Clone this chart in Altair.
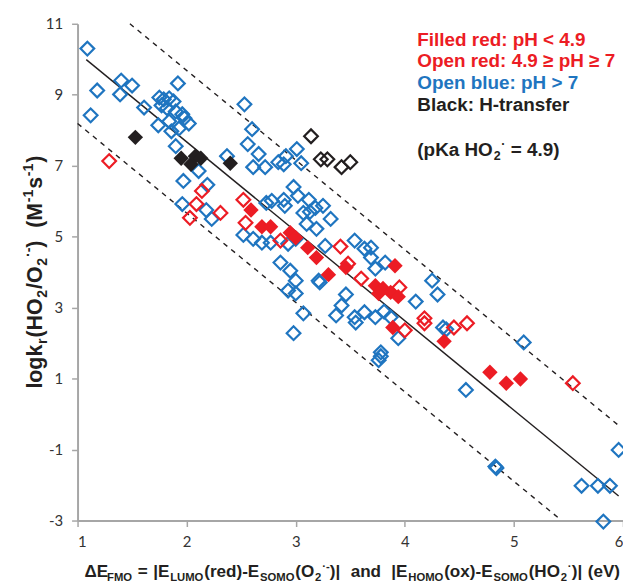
import altair as alt
import pandas as pd

BLUE = "#1F75C0"
RED = "#EC1C24"
BLACK = "#231F20"
GRAY = "#A6A6A6"

# ---------------- data ----------------
blue_x = [1.09, 1.18, 1.12, 1.40, 1.39, 1.50, 1.61, 1.92, 1.75, 1.79, 1.84, 1.88, 1.77, 1.82, 1.90, 1.96,
          2.02, 1.84, 1.74, 1.86, 1.93, 1.98, 1.90, 1.97, 2.11, 2.19, 1.96, 2.18, 2.23, 2.37, 2.53, 2.60,
          2.56, 2.66, 2.61, 2.72, 2.84, 2.91, 3.01, 3.05, 2.89, 2.73, 2.98, 3.02, 2.78, 2.89, 2.90, 3.12,
          3.07, 3.13, 3.18, 3.25, 3.32, 3.10, 3.19, 2.52, 2.61, 2.69, 2.77, 2.93, 3.00, 3.27, 3.54, 3.63,
          3.69, 3.69, 3.82, 3.73, 2.86, 2.95, 3.00, 3.21, 2.93, 3.00, 3.07, 2.98, 3.46, 3.37, 3.42, 3.54,
          3.55, 3.63, 3.73, 3.81, 3.87, 4.10, 4.25, 4.30, 3.94, 3.78, 3.78, 3.76, 4.35, 4.38, 4.56, 5.09,
          4.83, 4.84, 5.96, 5.62, 5.77, 5.88, 5.82, 3.22]
blue_y = [10.30, 9.12, 8.42, 9.40, 9.01, 9.26, 8.64, 9.32, 8.92, 8.87, 8.90, 8.81, 8.70, 8.62, 8.53, 8.45,
          8.19, 8.25, 8.14, 7.97, 8.05, 8.34, 7.55, 6.57, 6.85, 6.46, 5.92, 5.75, 5.50, 7.27, 8.73, 8.03,
          7.61, 7.33, 6.96, 6.96, 7.10, 7.27, 7.47, 7.07, 7.04, 5.95, 6.40, 6.15, 6.01, 6.04, 5.87, 6.04,
          5.67, 5.70, 5.81, 5.87, 5.50, 5.36, 5.22, 5.05, 4.94, 4.83, 4.83, 4.80, 4.94, 4.74, 4.89, 4.66,
          4.69, 4.41, 4.27, 4.10, 4.27, 4.04, 3.76, 3.76, 3.48, 3.40, 2.84, 2.28, 3.37, 2.78, 3.06, 2.73,
          2.58, 2.87, 2.73, 2.89, 2.73, 3.17, 3.76, 3.37, 2.14, 1.74, 1.63, 1.52, 2.44, 2.39, 0.68, 2.02,
          -1.48, -1.52, -1.01, -2.02, -2.02, -2.02, -3.03, 3.71]

red_open_x = [1.29, 2.14, 2.09, 2.03, 2.31, 2.52, 2.54, 2.86, 3.41, 3.48, 3.60, 3.95, 4.00, 4.18, 4.18,
              4.45, 4.57, 5.54]
red_open_y = [7.13, 6.29, 5.92, 5.53, 5.67, 6.04, 5.39, 4.89, 4.72, 4.24, 3.82, 3.57, 2.36, 2.70, 2.56,
              2.44, 2.56, 0.87]

red_filled_x = [2.59, 2.69, 2.77, 2.95, 3.00, 3.11, 3.19, 3.30, 3.46, 3.91, 3.73, 3.80, 3.87, 3.94, 3.76,
                3.89, 4.36, 4.78, 4.93, 5.06]
red_filled_y = [5.75, 5.28, 5.28, 5.11, 4.97, 4.69, 4.41, 3.93, 4.13, 4.18, 3.62, 3.54, 3.43, 3.31, 3.40,
                2.44, 2.05, 1.18, 0.87, 0.99]

black_filled_x = [1.53, 1.95, 2.04, 2.08, 2.13, 2.40]
black_filled_y = [7.80, 7.21, 7.04, 7.27, 7.21, 7.07]

black_open_x = [3.14, 3.23, 3.29, 3.42, 3.50]
black_open_y = [7.83, 7.18, 7.18, 6.96, 7.10]

fit_x, fit_y = [1.08, 5.96], [9.99, -2.31]
upper_x, upper_y = [1.48, 5.96], [11.0, -0.32]
lower_x, lower_y = [1.0, 5.43], [8.19, -2.98]

x_ticks = [1, 2, 3, 4, 5, 6]
y_ticks = [-3, -1, 1, 3, 5, 7, 9, 11]

legend_lines = [("Filled red: pH < 4.9", RED), ("Open red: 4.9 ≥ pH ≥ 7", RED),
                ("Open blue: pH > 7", BLUE), ("Black: H-transfer", BLACK)]

# ---------------- chart ----------------
W, H = 549, 500
xs = alt.Scale(domain=[1, 6], nice=False, zero=False)
ys = alt.Scale(domain=[-3, 11], nice=False, zero=False)
common_axis = dict(title=None, grid=False, domainColor=GRAY, domainWidth=2, tickColor=GRAY,
                   tickWidth=1.5, tickSize=6, labelFont="Lato", labelFontSize=15,
                   labelColor="#333333", labelExpr="'' + datum.value")
xaxis = alt.Axis(values=x_ticks, labelPadding=8, **common_axis)
yaxis = alt.Axis(values=y_ticks, labelPadding=9, **common_axis)


def enc(ch):
    return ch.encode(x=alt.X("x:Q", scale=xs, axis=xaxis), y=alt.Y("y:Q", scale=ys, axis=yaxis))


def line(xv, yv, dash=None):
    kw = dict(color=BLACK, strokeWidth=1.4)
    if dash:
        kw["strokeDash"] = dash
    return enc(alt.Chart(pd.DataFrame({"x": xv, "y": yv})).mark_line(**kw))


def pts(xv, yv, color, filled):
    kw = dict(shape="diamond", filled=filled, color=color, opacity=1)
    if filled:
        kw.update(size=240, strokeWidth=0)
    else:
        kw.update(size=190, strokeWidth=2.2)
    return enc(alt.Chart(pd.DataFrame({"x": xv, "y": yv})).mark_point(**kw))


AB = {' ': 278, '(': 333, ')': 333, '-': 333, '.': 278, '/': 278, ':': 333, '<': 584, '=': 584,
      '>': 584, '≥': 549, '|': 280, '·': 278, 'Δ': 612, 'E': 667, 'F': 611, 'H': 722, 'K': 722,
      'L': 611, 'M': 833, 'O': 778, 'S': 667, 'U': 722, 'V': 667, 'a': 556, 'd': 611, 'e': 556,
      'g': 611, 'k': 556, 'l': 278, 'n': 611, 'o': 611, 'p': 611, 'r': 389, 's': 556, 'x': 556}


def tw(s, fs):
    return sum(AB.get(c, 556) for c in s) / 1000 * fs


def layout(segs, F, sc=0.66, gap=0.8):
    out, pos = [], 0.0
    for s, k in segs:
        fs = F if k == "n" else F * sc
        shift = 0 if k == "n" else (0.24 * F if k == "sub" else -0.40 * F)
        lead = tw(s[:len(s) - len(s.lstrip())], fs)
        out.append((s.strip(), pos + lead, shift, fs))
        pos += tw(s, fs) + gap
    return out, pos - gap


def txt(s, px, py, fs, color=BLACK, angle=0):
    kw = dict(text=s, font="Liberation Sans", fontWeight="bold", fontSize=fs, align="left",
              baseline="alphabetic", color=color)
    if angle:
        kw["angle"] = angle
    return alt.Chart(alt.Data(values=[{}])).mark_text(**kw).encode(x=alt.value(px), y=alt.value(py))


text_layers = []
# x title
xseg = [("ΔE", "n"), ("FMO", "sub"), (" = ", "n"), ("|E", "n"), ("LUMO", "sub"), ("(red)-E", "n"),
        ("SOMO", "sub"), ("(O", "n"), ("2", "sub"), ("·-", "sup"), (")|", "n"), ("  and  ", "n"),
        ("|E", "n"), ("HOMO", "sub"), ("(ox)-E", "n"), ("SOMO", "sub"), ("(HO", "n"), ("2", "sub"),
        ("·", "sup"), (")|", "n"), (" (eV)", "n")]
segs, total = layout(xseg, 17.2)
x0 = 276.5 - total / 2
for s, off, sh, fs in segs:
    text_layers.append(txt(s, x0 + off, 557 + sh, fs))

# y title (rotated)
yseg = [("logk", "n"), ("r", "sub"), ("(HO", "n"), ("2", "sub"), ("/O", "n"), ("2", "sub"),
        ("·-", "sup"), (")", "n"), ("  (M", "n"), ("-1", "sup"), ("s", "n"), ("-1", "sup"), (")", "n")]
segs, total = layout(yseg, 21.5)
y0 = 250 + total / 2
for s, off, sh, fs in segs:
    text_layers.append(txt(s, -36 + sh, y0 - off, fs, angle=270))

# legend text
for i, (s, c) in enumerate(legend_lines):
    text_layers.append(txt(s, 342, 22 + 22 * i, 19, color=c))
pk = [("(pKa HO", "n"), ("2", "sub"), ("·", "sup"), (" = 4.9)", "n")]
segs, total = layout(pk, 19)
for s, off, sh, fs in segs:
    text_layers.append(txt(s, 342 + off, 133 + sh, fs))

layers = [
    line(lower_x, lower_y, [5, 5]),
    line(upper_x, upper_y, [5, 5]),
    line(fit_x, fit_y),
    pts(blue_x, blue_y, BLUE, False),
    pts(red_open_x, red_open_y, RED, False),
    pts(red_filled_x, red_filled_y, RED, True),
    pts(black_filled_x, black_filled_y, BLACK, True),
    pts(black_open_x, black_open_y, BLACK, False),
] + text_layers

chart = alt.layer(*layers).properties(
    width=W, height=H,
    padding={"left": 70, "top": 14, "right": 0, "bottom": 64},
    autosize=alt.AutoSizeParams(type="none"),
).configure_view(stroke=None)

chart.save("out.html", embed_options={"renderer": "svg", "actions": False})
